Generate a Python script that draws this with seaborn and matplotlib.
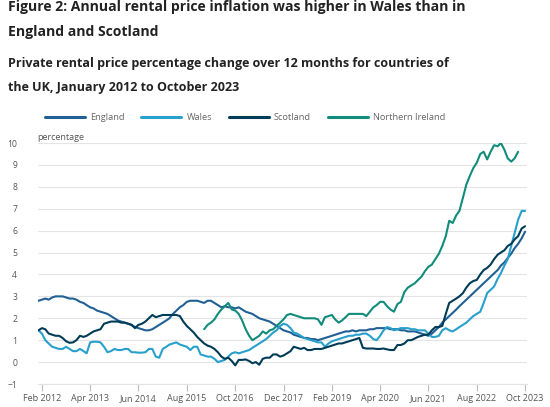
import numpy as np
import pandas as pd
import matplotlib
matplotlib.use("Agg")
import matplotlib.pyplot as plt
import seaborn as sns

months = pd.date_range("2012-01-01", "2023-10-01", freq="MS")

england = [2.8, 2.85, 2.9, 2.85, 2.95, 3.0, 3.0, 3.0, 2.95, 2.9, 2.9, 2.85,
           2.75, 2.7, 2.6, 2.5, 2.45, 2.35, 2.3, 2.25, 2.2, 2.1, 2.0, 1.9,
           1.85, 1.8, 1.75, 1.7, 1.6, 1.55, 1.5, 1.45, 1.45, 1.5, 1.6, 1.7,
           1.8, 1.9, 2.0, 2.2, 2.35, 2.5, 2.6, 2.75, 2.8, 2.8, 2.8, 2.75,
           2.7, 2.8, 2.8, 2.7, 2.6, 2.5, 2.55, 2.5, 2.5, 2.45, 2.5, 2.4,
           2.3, 2.25, 2.2, 2.1, 2.0, 1.95, 1.9, 1.85, 1.75, 1.65, 1.55, 1.45,
           1.4, 1.35, 1.25, 1.2, 1.15, 1.1, 1.1, 1.05, 1.05, 1.0, 1.05, 1.1,
           1.15, 1.2, 1.25, 1.3, 1.35, 1.4, 1.4, 1.45, 1.4, 1.45, 1.45, 1.45,
           1.5, 1.5, 1.55, 1.55, 1.55, 1.55, 1.5, 1.5, 1.5, 1.45, 1.45, 1.4,
           1.4, 1.4, 1.35, 1.3, 1.25, 1.2, 1.3, 1.45, 1.6, 1.8, 1.95, 2.1,
           2.25, 2.4, 2.55, 2.7, 2.85, 3.0, 3.15, 3.3, 3.45, 3.6, 3.75, 3.9,
           4.05, 4.2, 4.4, 4.55, 4.75, 4.95, 5.2, 5.4, 5.65, 5.95]

wales = [1.45, 1.3, 1.0, 0.85, 0.7, 0.65, 0.6, 0.6, 0.7, 0.6, 0.5, 0.5,
         0.6, 0.5, 0.4, 0.9, 0.93, 0.93, 0.9, 0.7, 0.45, 0.5, 0.6, 0.55,
         0.55, 0.6, 0.6, 0.45, 0.45, 0.43, 0.43, 0.45, 0.6, 0.6, 0.25, 0.2,
         0.6, 0.7, 0.8, 0.85, 0.9, 0.8, 0.75, 0.7, 0.55, 0.7, 0.7, 0.35,
         0.3, 0.25, 0.25, 0.15, 0.0, 0.05, 0.1, 0.25, 0.4, 0.45, 0.4, 0.45,
         0.5, 0.55, 0.65, 0.75, 0.85, 0.95, 1.05, 1.2, 1.35, 1.45, 1.65, 1.75,
         1.7, 1.55, 1.35, 1.3, 1.2, 1.1, 1.05, 1.0, 0.95, 0.9, 0.9, 0.7,
         0.85, 0.95, 1.0, 1.05, 1.1, 1.15, 1.2, 1.2, 1.25, 1.25, 1.3, 1.3,
         1.2, 1.05, 1.0, 1.2, 1.45, 1.6, 1.55, 1.45, 1.5, 1.55, 1.55, 1.55,
         1.5, 1.5, 1.45, 1.45, 1.45, 1.3, 1.15, 1.15, 1.2, 1.45, 1.55, 1.45,
         1.4, 1.5, 1.6, 1.7, 1.8, 1.95, 2.1, 2.2, 2.3, 2.7, 3.15, 3.3,
         3.45, 3.8, 4.05, 4.4, 4.7, 5.3, 5.9, 6.5, 6.9, 6.9]

scotland = [1.45, 1.55, 1.5, 1.3, 1.25, 1.2, 1.2, 1.1, 0.95, 0.88, 0.9, 1.0,
            1.2, 1.15, 1.2, 1.3, 1.4, 1.45, 1.5, 1.75, 1.8, 1.85, 1.85, 1.85,
            1.8, 1.8, 1.75, 1.7, 1.55, 1.7, 1.75, 1.85, 2.0, 2.15, 2.05, 2.1,
            2.15, 2.15, 2.15, 2.15, 2.15, 2.1, 1.85, 1.65, 1.5, 1.35, 1.15, 1.0,
            0.85, 0.75, 0.7, 0.6, 0.45, 0.25, 0.15, 0.2, 0.05, -0.15, 0.1, 0.1,
            0.12, 0.05, -0.05, 0.0, -0.12, 0.15, 0.2, 0.2, 0.35, 0.35, 0.25, 0.3,
            0.4, 0.5, 0.7, 0.65, 0.6, 0.65, 0.55, 0.55, 0.6, 0.6, 0.6, 0.65,
            0.7, 0.75, 0.8, 0.85, 0.85, 0.9, 0.95, 1.0, 1.05, 1.1, 0.65, 0.62,
            0.62, 0.62, 0.6, 0.6, 0.62, 0.58, 0.55, 0.55, 0.78, 0.78, 0.85, 1.0,
            1.0, 1.08, 1.15, 1.2, 1.25, 1.25, 1.45, 1.6, 1.6, 1.65, 2.2, 2.7,
            2.8, 2.9, 3.0, 3.15, 3.4, 3.6, 3.7, 3.75, 4.0, 4.2, 4.3, 4.45,
            4.7, 4.9, 5.0, 5.1, 5.3, 5.4, 5.6, 5.75, 6.1, 6.2]

# Northern Ireland: Jan 2016 to Aug 2023
northern_ireland = [1.5, 1.7, 1.8, 1.95, 2.2, 2.4, 2.55, 2.7, 2.4, 2.35, 2.2, 1.9,
                    1.5, 1.2, 1.0, 1.1, 1.2, 1.4, 1.3, 1.45, 1.5, 1.65, 1.8, 1.95,
                    2.15, 2.2, 2.15, 2.1, 2.05, 2.0, 2.0, 2.0, 2.0, 1.95, 1.7, 2.05,
                    2.1, 2.15, 1.95, 1.8, 1.9, 2.05, 2.2, 2.2, 2.2, 2.2, 2.2, 2.1,
                    2.3, 2.5, 2.6, 2.75, 2.75, 2.55, 2.4, 2.3, 2.65, 2.75, 3.2, 3.4,
                    3.5, 3.6, 3.75, 3.9, 4.15, 4.35, 4.45, 4.7, 4.95, 5.3, 5.75, 6.45,
                    6.35, 6.7, 6.9, 7.5, 8.1, 8.5, 8.85, 9.1, 9.5, 9.6, 9.25, 9.6,
                    9.9, 9.85, 10.0, 9.7, 9.3, 9.15, 9.3, 9.6]
ni_start = "2016-01-01"

series_names = ["England", "Wales", "Scotland", "Northern Ireland"]
palette = {"England": "#206095", "Wales": "#27a0cc",
           "Scotland": "#003c57", "Northern Ireland": "#118c7b"}

ni_full = [np.nan] * len(months)
start_idx = list(months).index(pd.Timestamp(ni_start))
for i, v in enumerate(northern_ireland):
    ni_full[start_idx + i] = v

wide = pd.DataFrame({"England": england, "Wales": wales, "Scotland": scotland,
                     "Northern Ireland": ni_full}, index=months)
wide.index.name = "date"
long = wide.reset_index().melt(id_vars="date", var_name="country", value_name="value")

tick_dates = pd.date_range("2012-02-01", "2023-10-01", freq="14MS")
tick_labels = [d.strftime("%b %Y") for d in tick_dates]

sns.set_theme(style="white")
plt.rcParams["font.family"] = ["Open Sans", "DejaVu Sans"]

fig = plt.figure(figsize=(5.5, 4.07), dpi=100)
ax = fig.add_axes([38 / 550, 1 - 384 / 407, (527 - 38) / 550, (384 - 143) / 407])

sns.lineplot(data=long, x="date", y="value", hue="country", hue_order=series_names,
             palette=palette, linewidth=1.5, ax=ax, legend=False)

ax.set_ylim(-1, 10)
ax.set_yticks(range(-1, 11))
ax.set_xlim(pd.Timestamp("2011-12-28"), pd.Timestamp("2023-10-18"))
ax.set_xticks(tick_dates)
ax.set_xticklabels(tick_labels)
ax.yaxis.grid(True, color="#e4e4e4", linewidth=0.8)
ax.xaxis.grid(False)
for s in ["top", "right", "left"]:
    ax.spines[s].set_visible(False)
ax.spines["bottom"].set_color("#e4e4e4")
ax.spines["bottom"].set_linewidth(0.8)
ax.tick_params(axis="x", which="both", bottom=True, length=5, width=0.8,
               color="#bbbbbb", labelsize=6.5, labelcolor="#555555", pad=2)
ax.tick_params(axis="y", left=False, labelsize=6.2, labelcolor="#555555", pad=9)
ax.set_xlabel("")
ax.set_ylabel("")
ax.set_axisbelow(True)

fig.text(37 / 550, 1 - 138 / 407, "percentage", fontsize=6.5,
         color="#555555", ha="left", va="center")

# legend
handles = [plt.Line2D([0], [0], color=palette[n], linewidth=2.2) for n in series_names]
leg = fig.legend(handles, series_names, ncol=4, frameon=False,
                 loc="center left", bbox_to_anchor=(45 / 550, 1 - 118 / 407),
                 fontsize=6.7, handlelength=4.3, columnspacing=1.8, handletextpad=0.55,
                 borderaxespad=0, borderpad=0)
for t in leg.get_texts():
    t.set_color("#666666")

title_kw = dict(fontsize=10.1, fontweight="bold", color="#222222", va="center", ha="left")
sub_kw = dict(fontsize=9, fontweight="bold", color="#222222", va="center", ha="left")
fig.text(8 / 550, 1 - 7 / 407, "Figure 2: Annual rental price inflation was higher in Wales than in", **title_kw)
fig.text(8 / 550, 1 - 32 / 407, "England and Scotland", **title_kw)
fig.text(8 / 550, 1 - 63 / 407, "Private rental price percentage change over 12 months for countries of", **sub_kw)
fig.text(8 / 550, 1 - 88 / 407, "the UK, January 2012 to October 2023", **sub_kw)

fig.savefig("out.png", dpi=100, facecolor="white")
